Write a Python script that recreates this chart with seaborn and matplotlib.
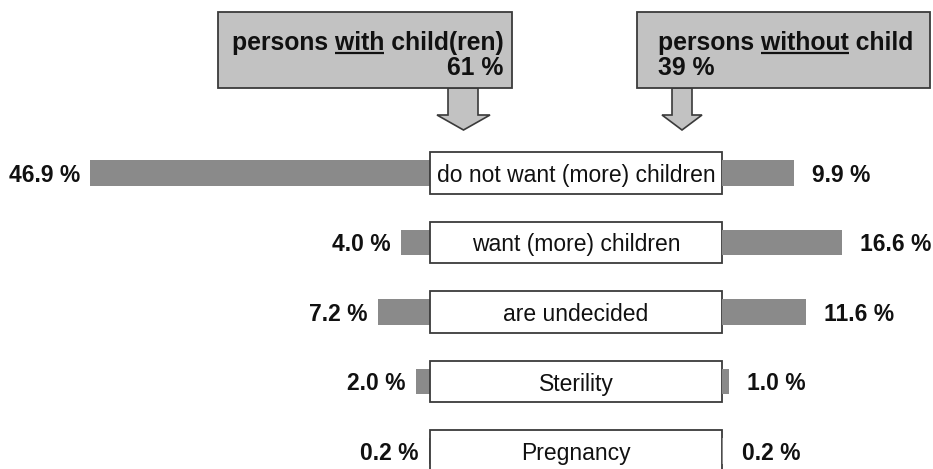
import numpy as np
import pandas as pd
import seaborn as sns
import matplotlib.pyplot as plt
from matplotlib.patches import Rectangle, Polygon

# data
categories = ['do not want (more) children', 'want (more) children', 'are undecided',
              'Sterility', 'Pregnancy']
with_child = [46.9, 4.0, 7.2, 2.0, 0.2]
without_child = [9.9, 16.6, 11.6, 1.0, 0.2]
share_with = 61
share_without = 39

df = pd.DataFrame({'category': categories, 'with_child': with_child,
                   'without_child': without_child})

sns.set_style('white')
plt.rcParams['font.family'] = ['Liberation Sans', 'DejaVu Sans']

BAR = '#8a8a8a'
CALLOUT = '#c2c2c2'
EDGE = '#3a3a3a'
W, H = 933, 469
PX_PER_PCT = 7.25
ROW0, ROW_STEP = 173, 69.5

fig = plt.figure(figsize=(W / 100, H / 100), dpi=100)


def px_axes(x0, y0, x1, y1):
    a = fig.add_axes([x0 / W, 1 - y1 / H, (x1 - x0) / W, (y1 - y0) / H])
    a.set_axis_off()
    return a


ax_l = px_axes(0, 140, 430, 469)
ax_m = px_axes(430, 140, 722, 469)
ax_r = px_axes(722, 140, 933, 469)
ax_top = px_axes(0, 0, 933, 140)

ylim = ((469 - ROW0) / ROW_STEP, (140 - ROW0) / ROW_STEP)

# left bars (persons with children)
sns.barplot(data=df, x='with_child', y='category', orient='h', color=BAR,
            width=0.36, linewidth=0, saturation=1, ax=ax_l)
ax_l.set_xlim(430 / PX_PER_PCT, 0)
ax_l.set_ylim(ylim)
ax_l.set_axis_off()
for i, v in enumerate(with_child):
    ax_l.text(v + 1.4, i, f'{v:.1f} %', ha='right', va='center_baseline',
              fontsize=16.5, fontweight='bold', color='#111111')

# right bars (persons without child)
sns.barplot(data=df, x='without_child', y='category', orient='h', color=BAR,
            width=0.36, linewidth=0, saturation=1, ax=ax_r)
ax_r.set_xlim(0, 211 / PX_PER_PCT)
ax_r.set_ylim(ylim)
ax_r.set_axis_off()
for i, v in enumerate(without_child):
    ax_r.text(v + 2.5, i, f'{v:.1f} %', ha='left', va='center_baseline',
              fontsize=16.5, fontweight='bold', color='#111111')

# middle label boxes
ax_m.set_xlim(0, 1)
ax_m.set_ylim(ylim)
for i, c in enumerate(categories):
    ax_m.add_patch(Rectangle((0, i - 0.3), 1, 0.6, facecolor='white',
                             edgecolor=EDGE, lw=1.3, clip_on=False, zorder=3))
    ax_m.text(0.5, i, c, ha='center', va='center_baseline', fontsize=16.5,
              color='#111111', zorder=4)

# callouts on top (pixel units)
ax_top.set_xlim(0, W)
ax_top.set_ylim(140, 0)
renderer = fig.canvas.get_renderer()


def text_width(s, **kw):
    t = ax_top.text(0, 0, s, **kw)
    w = t.get_window_extent(renderer).width
    t.remove()
    return w


def callout(bx0, bx1, shaft, head, tip_x, lead, word, tail, pct, tx, pct_right):
    ax_top.add_patch(Polygon([(shaft[0], 88), (shaft[0], 115), (head[0], 115), (tip_x, 130),
                              (head[1], 115), (shaft[1], 115), (shaft[1], 88)],
                             closed=True, facecolor=CALLOUT, edgecolor=EDGE, lw=1.2))
    ax_top.add_patch(Rectangle((bx0, 12), bx1 - bx0, 76, facecolor=CALLOUT,
                               edgecolor=EDGE, lw=1.3, zorder=2))
    kw = dict(fontsize=17.8, fontweight='bold', color='#111111')
    title = lead + word + tail
    ax_top.text(tx, 50, title, ha='left', va='baseline', zorder=3, **kw)
    w_lead_word = text_width(lead + word, **kw)
    w_word = text_width(word, **kw)
    ux1 = tx + w_lead_word
    ax_top.plot([ux1 - w_word, ux1], [53, 53], color='#111111', lw=1.6, zorder=3,
                solid_capstyle='butt')
    if pct_right:
        w_title = text_width(title, **kw)
        ax_top.text(tx + w_title, 75, f'{pct} %', ha='right', va='baseline', zorder=3, **kw)
    else:
        ax_top.text(tx, 75, f'{pct} %', ha='left', va='baseline', zorder=3, **kw)


callout(218, 512, (448, 478), (437, 490), 463.5, 'persons ', 'with', ' child(ren)',
        share_with, 232, True)
callout(637, 930, (672, 692), (662, 702), 682, 'persons ', 'without', ' child',
        share_without, 658, False)

fig.savefig('out.png', dpi=100)
